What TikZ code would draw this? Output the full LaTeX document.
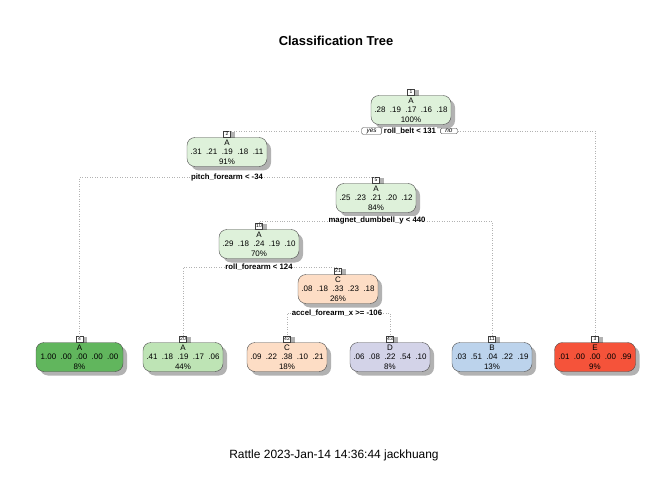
\documentclass[tikz,border=0pt]{standalone}
\usepackage{fontspec}
\setmainfont{Liberation Sans}
\usetikzlibrary{shadows,positioning}
\definecolor{lightA}{RGB}{222,241,218}
\definecolor{leafA}{RGB}{97,182,93}
\definecolor{midA}{RGB}{190,228,181}
\definecolor{lightC}{RGB}{253,221,197}
\definecolor{leafD}{RGB}{211,211,232}
\definecolor{leafB}{RGB}{188,211,236}
\definecolor{leafE}{RGB}{245,83,58}

\begin{document}
\begin{tikzpicture}[x=1bp,y=-1bp,
    box/.style={draw=gray!60!black, rounded corners=8bp, minimum width=80bp,
        minimum height=29bp, inner sep=1bp, align=center,
        font=\fontsize{8}{9.5}\selectfont,
        drop shadow={shadow xshift=4bp, shadow yshift=-4bp, fill=black, opacity=0.3}},
    num/.style={draw=gray!50!black, line width=0.3pt, fill=white, inner sep=0.6bp,
        minimum width=7bp, minimum height=6bp,
        anchor=south, font=\fontsize{5}{5}\selectfont,
        drop shadow={shadow xshift=4bp, shadow yshift=-0.5bp, fill=black, opacity=0.3}},
    split/.style={fill=white, inner sep=1bp, font=\bfseries\fontsize{7.8}{8}\selectfont},
    yesno/.style={draw=gray!50!black, line width=0.3pt, fill=white, rounded corners=1.5bp,
        inner xsep=5bp, inner ysep=1bp, font=\itshape\fontsize{6.5}{6.5}\selectfont},
    link/.style={dotted, gray!60, line width=0.5pt}]
        \useasboundingbox (0,0) rectangle (672,480);
        \node[font=\bfseries\fontsize{13}{13}\selectfont] (title) at (336,41) {Classification Tree};%
        % Draw the inner nodes
        \node[box, fill=lightA] (n1) at (411,110) {A\\.28~~.19~~.17~~.16~~.18\\100\%};
        \node[box, fill=lightA] (n2) at (227,152) {A\\.31~~.21~~.19~~.18~~.11\\91\%};
        \node[box, fill=lightA] (n5) at (376,198) {A\\.25~~.23~~.21~~.20~~.12\\84\%};
        \node[box, fill=lightA] (n10) at (259,244) {A\\.29~~.18~~.24~~.19~~.10\\70\%};
        \node[box, fill=lightC] (n21) at (338,289) {C\\.08~~.18~~.33~~.23~~.18\\26\%};
        % Draw the leaves
        \foreach \id/\x/\w/\cls/\pr/\pct/\col in {4/79.5/87/A/1.00~~.00~~.00~~.00~~.00/8/leafA,
            20/183/80/A/.41~~.18~~.19~~.17~~.06/44/midA,
            42/287/80/C/.09~~.22~~.38~~.10~~.21/18/lightC,
            43/390/80/D/.06~~.08~~.22~~.54~~.10/8/leafD,
            11/492/80/B/.03~~.51~~.04~~.22~~.19/13/leafB,
            3/595/81/E/.01~~.00~~.00~~.00~~.99/9/leafE}
        \node[box, fill=\col, minimum width=\w bp] (n\id) at (\x,357) {\cls\\\pr\\\pct\%};
        % Draw the node numbers
        \foreach \id in {1,2,5,10,21,4,20,42,43,11,3}
        \node[num] (num\id) at (n\id.north) {\id};
        % Draw the splits
        \node[split] (s1) at (410,131) {roll\_belt < 131};
        \node[yesno, left=1bp of s1] (yes) {yes};
        \node[yesno, right=3bp of s1] (no) {no};
        \node[split] (s2) at (227,177) {pitch\_forearm < -34};
        \node[split] (s5) at (377,221) {magnet\_dumbbell\_y < 440};
        \node[split] (s10) at (259,267) {roll\_forearm < 124};
        \node[split] (s21) at (337,313) {accel\_forearm\_x >= -106};
        \draw[link] (yes.west) -| (num2.north);
        \draw[link] (no.east) -| (num3.north);
        \foreach \s/\l/\r in {2/4/5, 5/10/11, 10/20/21, 21/42/43}
        {
        \draw[link] (s\s.west) -| (num\l.north);
        \draw[link] (s\s.east) -| (num\r.north);
        }
        \node[font=\fontsize{12}{12}\selectfont] (footer) at (334,455) {Rattle 2023-Jan-14 14:36:44 jackhuang};%
    \end{tikzpicture}
\end{document}
